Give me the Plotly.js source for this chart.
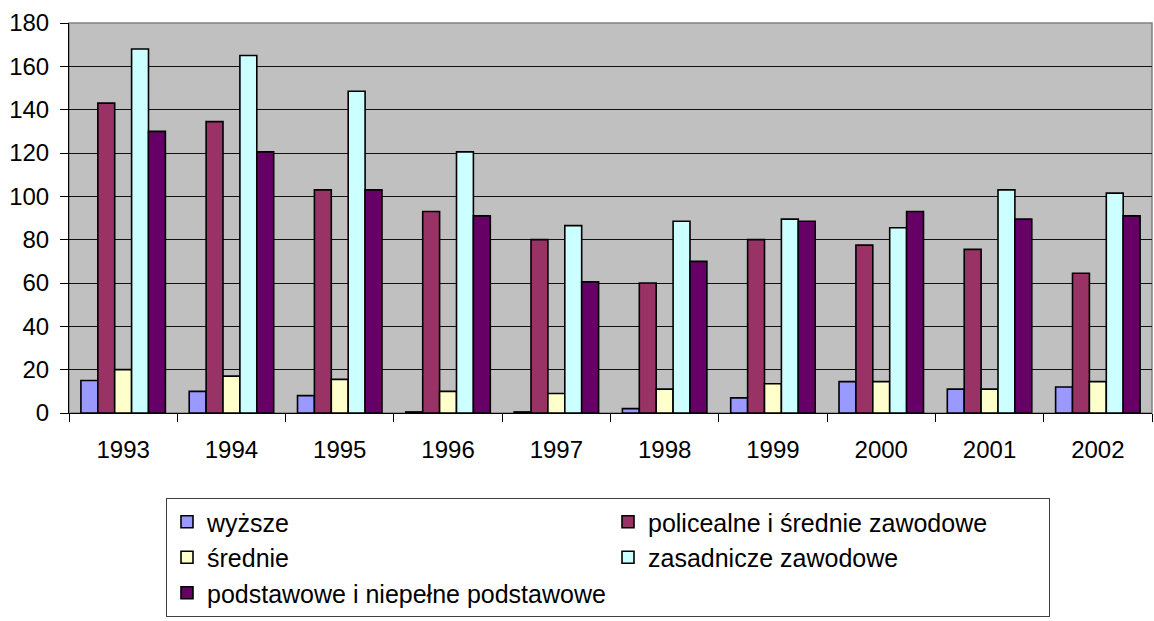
<!DOCTYPE html>
<html>
<head>
<meta charset="utf-8">
<script src="https://cdn.plot.ly/plotly-3.0.1.min.js"></script>
<style>html,body{margin:0;padding:0;background:#fff;}#chart{width:1154px;height:621px;}</style>
</head>
<body>
<div id="chart"></div>
<script>
const years = ['1993','1994','1995','1996','1997','1998','1999','2000','2001','2002'];
const seriesNames = ['wyższe','policealne i średnie zawodowe','średnie','zasadnicze zawodowe','podstawowe i niepełne podstawowe'];
const wyzsze      = [15, 10, 8, 0.5, 0.5, 2, 7, 14.5, 11, 12];
const policealne  = [143, 134.5, 103, 93, 80, 60, 80, 77.5, 75.5, 64.5];
const srednie     = [20, 17, 15.5, 10, 9, 11, 13.5, 14.5, 11, 14.5];
const zasadnicze  = [168, 165, 148.5, 120.5, 86.5, 88.5, 89.5, 85.5, 103, 101.5];
const podstawowe  = [130, 120.5, 103, 91, 60.5, 70, 88.5, 93, 89.5, 91];
const colors = ['#9999FF','#993366','#FFFFCC','#CCFFFF','#660066'];

const allValues = [wyzsze, policealne, srednie, zasadnicze, podstawowe];
const FONT = 'Liberation Sans, Arial, sans-serif';

const traces = allValues.map((vals, i) => ({
  type: 'bar',
  name: seriesNames[i],
  x: years,
  y: vals,
  marker: {color: colors[i], line: {color: '#000000', width: 1.6}},
  hoverinfo: 'x+y+name'
}));

const layout = {
  width: 1154,
  height: 621,
  margin: {l: 69, r: 2, t: 23, b: 208, autoexpand: false},
  paper_bgcolor: '#ffffff',
  plot_bgcolor: '#C0C0C0',
  barmode: 'group',
  bargap: 0.22,
  bargroupgap: 0,
  showlegend: true,
  font: {family: FONT, size: 24, color: '#000'},
  xaxis: {
    type: 'category',
    tickson: 'boundaries',
    ticks: 'outside',
    ticklen: 8,
    tickcolor: '#000',
    tickwidth: 1,
    showline: true,
    linecolor: '#000',
    linewidth: 1,
    showgrid: false,
    zeroline: false,
    ticklabelstandoff: 15,
    tickfont: {family: FONT, size: 24, color: '#000'}
  },
  yaxis: {
    range: [0, 180],
    dtick: 20,
    tick0: 0,
    ticks: 'outside',
    ticklen: 8,
    tickcolor: '#000',
    tickwidth: 1,
    showline: true,
    linecolor: '#000',
    linewidth: 1,
    showgrid: true,
    gridcolor: '#111',
    gridwidth: 1,
    zeroline: false,
    ticklabelstandoff: 6,
    tickfont: {family: FONT, size: 24, color: '#000'}
  },
  shapes: [{
    type: 'rect', xref: 'paper', yref: 'paper', x0: 0, x1: 1, y0: 0, y1: 1,
    line: {color: '#808080', width: 1.5}, fillcolor: 'rgba(0,0,0,0)', layer: 'below'
  }],
  legend: {
    orientation: 'h',
    x: (166 - 69) / (1154 - 71),
    xanchor: 'left',
    y: -(498 - 413) / (413 - 23),
    yanchor: 'top',
    entrywidth: 396,
    entrywidthmode: 'pixels',
    bgcolor: '#ffffff',
    bordercolor: '#404040',
    borderwidth: 1,
    font: {family: FONT, size: 25, color: '#000'},
    itemclick: false,
    itemdoubleclick: false
  }
};

Plotly.newPlot('chart', traces, layout, {displayModeBar: false, staticPlot: true});
</script>
</body>
</html>
